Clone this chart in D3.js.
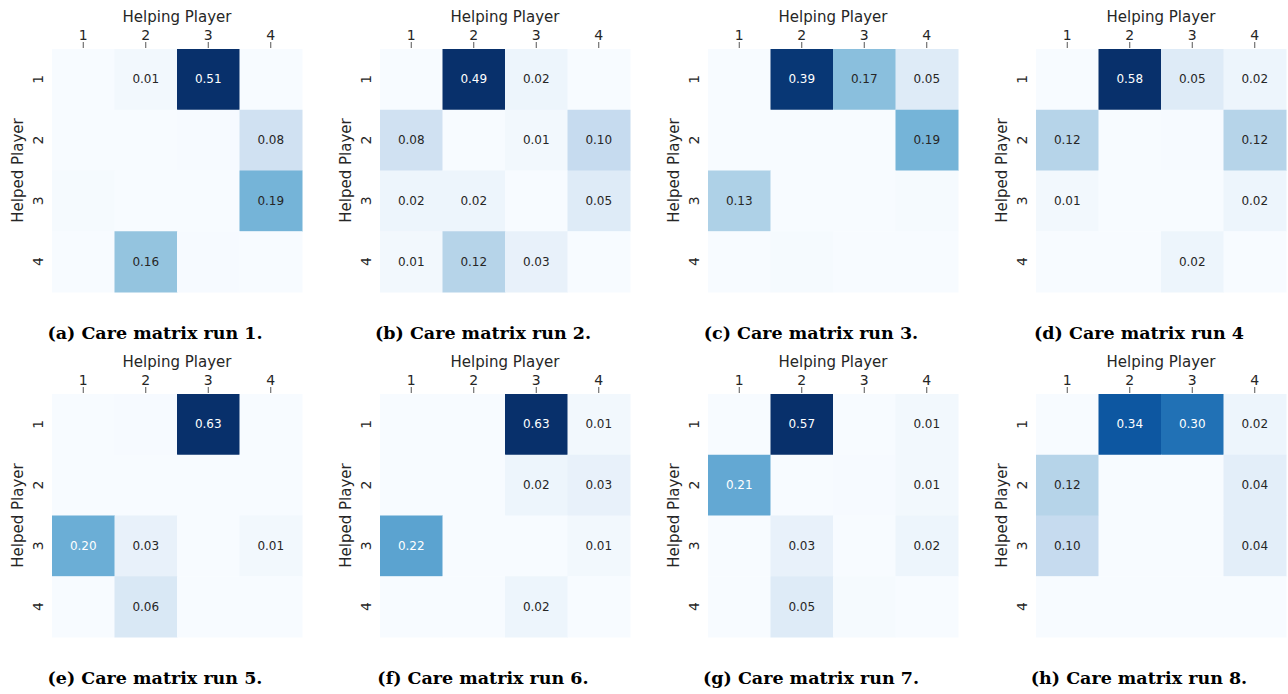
<!DOCTYPE html>
<html><head><meta charset="utf-8">
<script src="https://cdn.jsdelivr.net/npm/d3@7"></script>
<style>html,body{margin:0;padding:0;background:#fff;}svg{display:block;}</style>
</head><body>
<svg id="chart" width="1288" height="694"></svg>
<script>
// Data: rows = Helped Player 1..4, columns = Helping Player 1..4
const tickLabels = ["1", "2", "3", "4"];
const run1 = [[0, 0.01, 0.51, 0], [0, 0, 0.002, 0.08], [0.004, 0, 0, 0.19], [0, 0.16, 0.003, 0]];
const run2 = [[0, 0.49, 0.02, 0], [0.08, 0, 0.01, 0.10], [0.02, 0.02, 0, 0.05], [0.01, 0.12, 0.03, 0]];
const run3 = [[0, 0.39, 0.17, 0.05], [0, 0, 0, 0.19], [0.13, 0, 0, 0.004], [0, 0.004, 0, 0]];
const run4 = [[0, 0.58, 0.05, 0.02], [0.12, 0, 0.002, 0.12], [0.01, 0, 0, 0.02], [0, 0, 0.02, 0]];
const run5 = [[0, 0.002, 0.63, 0], [0, 0, 0, 0], [0.20, 0.03, 0, 0.01], [0, 0.06, 0, 0]];
const run6 = [[0, 0, 0.63, 0.01], [0, 0, 0.02, 0.03], [0.22, 0, 0, 0.01], [0, 0, 0.02, 0]];
const run7 = [[0, 0.57, 0, 0.01], [0.21, 0, 0.002, 0.01], [0, 0.03, 0, 0.02], [0, 0.05, 0.004, 0]];
const run8 = [[0, 0.34, 0.30, 0.02], [0.12, 0, 0, 0.04], [0.10, 0, 0, 0.04], [0, 0, 0, 0]];
const runs = [run1, run2, run3, run4, run5, run6, run7, run8];
const captions = ["(a) Care matrix run 1.", "(b) Care matrix run 2.", "(c) Care matrix run 3.", "(d) Care matrix run 4",
                  "(e) Care matrix run 5.", "(f) Care matrix run 6.", "(g) Care matrix run 7.", "(h) Care matrix run 8."];
const xLabel = "Helping Player";
const yLabel = "Helped Player";

// Layout
const lefts = [52, 380, 708, 1036];
const tops = [49, 394];
const W = 250, H = 243;
const vmax = 0.4;
const blues = ["#f7fbff","#deebf7","#c6dbef","#9ecae1","#6baed6","#4292c6","#2171b5","#08519c","#08306b"];
const color = d3.scaleLinear().domain(blues.map((_, i) => i / 8 * vmax)).range(blues)
  .interpolate(d3.interpolateRgb).clamp(true);
const textCol = "#262626";

function lum(c) {
  const rgb = d3.rgb(c);
  const f = v => { v /= 255; return v <= 0.03928 ? v / 12.92 : Math.pow((v + 0.055) / 1.055, 2.4); };
  return 0.2126 * f(rgb.r) + 0.7152 * f(rgb.g) + 0.0722 * f(rgb.b);
}

const svg = d3.select("#chart");
const font = "'DejaVu Sans', sans-serif";

runs.forEach((m, k) => {
  const left = lefts[k % 4], top = tops[Math.floor(k / 4)];
  const g = svg.append("g").attr("transform", `translate(${left},${top})`);
  const x = d3.scaleBand().domain(tickLabels).range([0, W]);
  const y = d3.scaleBand().domain(tickLabels).range([0, H]);
  const cells = [];
  m.forEach((row, i) => row.forEach((v, j) => cells.push({r: tickLabels[i], c: tickLabels[j], v})));
  g.selectAll("rect").data(cells).join("rect")
    .attr("x", d => x(d.c)).attr("y", d => y(d.r))
    .attr("width", x.bandwidth() + 0.5).attr("height", y.bandwidth() + 0.5)
    .attr("fill", d => color(d.v));
  g.selectAll("text.ann").data(cells.filter(d => d.v >= 0.005)).join("text")
    .attr("class", "ann")
    .attr("x", d => x(d.c) + x.bandwidth() / 2).attr("y", d => y(d.r) + y.bandwidth() / 2)
    .attr("text-anchor", "middle").attr("dominant-baseline", "central")
    .attr("font-family", font).attr("font-size", 12)
    .attr("fill", d => lum(color(d.v)) < 0.408 ? "#ffffff" : textCol)
    .text(d => d.v.toFixed(2));

  // top axis
  const xa = g.append("g").call(d3.axisTop(x).tickSize(6).tickPadding(3));
  xa.select(".domain").remove();
  xa.selectAll("line").attr("stroke", "#555").attr("transform", "translate(0,-1)");
  xa.selectAll("text").attr("font-family", font).attr("font-size", 14).attr("fill", textCol);
  // left axis (rotated labels)
  const ya = g.append("g").call(d3.axisLeft(y).tickSize(0).tickPadding(0));
  ya.select(".domain").remove();
  ya.selectAll("text").attr("font-family", font).attr("font-size", 14).attr("fill", textCol)
    .attr("text-anchor", "middle").attr("dy", null).attr("x", null)
    .attr("transform", "translate(-14,0) rotate(-90)").attr("dominant-baseline", "central");

  g.append("text").attr("x", W / 2).attr("y", -27).attr("text-anchor", "middle")
    .attr("font-family", font).attr("font-size", 15).attr("fill", textCol).text(xLabel);
  g.append("text").attr("transform", `translate(-34,${H / 2}) rotate(-90)`)
    .attr("text-anchor", "middle").attr("dominant-baseline", "central")
    .attr("font-family", font).attr("font-size", 15).attr("fill", textCol).text(yLabel);

  svg.append("text").attr("x", left + 103).attr("y", top + 290)
    .attr("text-anchor", "middle").attr("font-family", "'DejaVu Serif', serif")
    .attr("font-weight", "bold").attr("font-size", 17.5).attr("fill", "#000").text(captions[k]);
});
</script>
</body></html>
